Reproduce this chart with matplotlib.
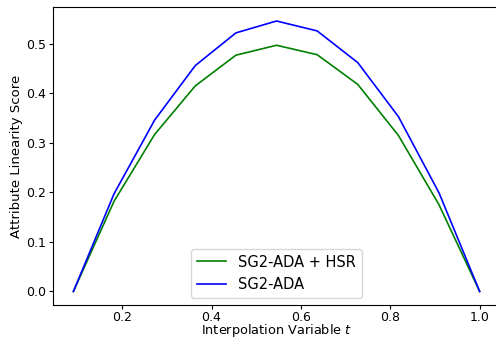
import numpy as np
import matplotlib
matplotlib.use("Agg")
import matplotlib.pyplot as plt

t = [1/11, 2/11, 3/11, 4/11, 5/11, 6/11, 7/11, 8/11, 9/11, 10/11, 1.0]
hsr = [0.0, 0.182, 0.317, 0.415, 0.477, 0.497, 0.478, 0.418, 0.315, 0.175, 0.0]
ada = [0.0, 0.197, 0.346, 0.456, 0.522, 0.546, 0.526, 0.462, 0.353, 0.199, 0.0]

fig, ax = plt.subplots(figsize=(4.96, 3.4), dpi=100)
ax.plot(t, hsr, color="green", lw=1.2, label="SG2-ADA + HSR")
ax.plot(t, ada, color="blue", lw=1.2, label="SG2-ADA")
ax.set_xlabel("Interpolation Variable $t$", fontsize=9.3, labelpad=-1)
ax.set_ylabel("Attribute Linearity Score", fontsize=9.5, labelpad=2)
ax.tick_params(labelsize=9, pad=2, length=3)
ax.tick_params(axis="x", pad=1.2)
ax.legend(loc="lower center", fontsize=10.5)
fig.subplots_adjust(left=0.107, right=1.008, top=0.978, bottom=0.103)
fig.savefig("out.png", dpi=100)
